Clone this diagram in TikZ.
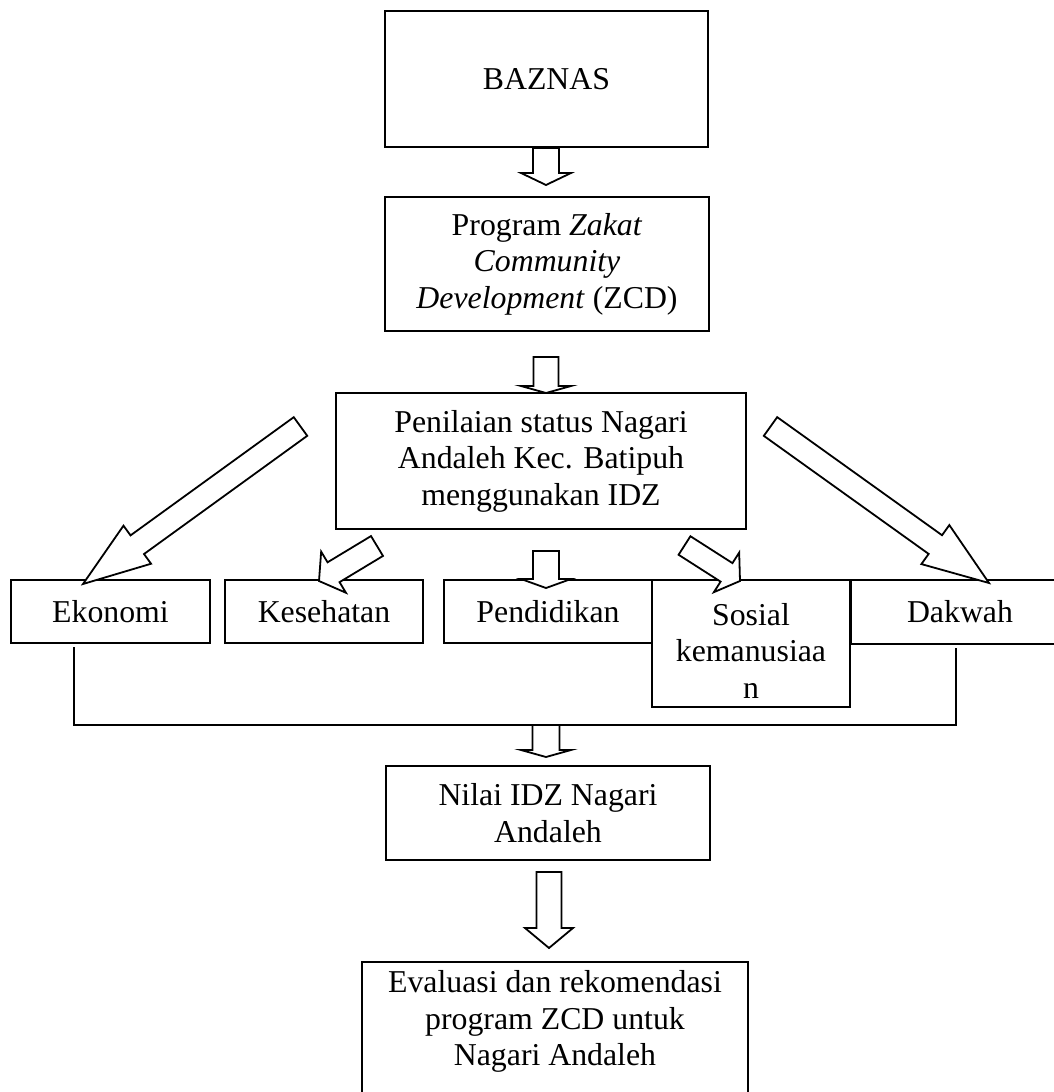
\documentclass[tikz,border=0pt]{standalone}
\usepackage{fontspec}
\setmainfont{Liberation Serif}
\usetikzlibrary{calc}
\tikzset{
  txt/.style={font={\fontsize{15.9}{18.25}\selectfont}, align=center, inner sep=0pt},
  box/.style={txt, draw, line width=0.9pt, rectangle},
  blockarrow/.style={draw, line width=0.9pt, line join=miter, fill=white},
  conn/.style={draw, line width=0.9pt},
}
\newcommand\blockarr[5]{%
  \coordinate (ba-hb) at ($(#2)!#5!(#1)$);
  \draw[blockarrow] ($(#1)!#3!90:(#2)$) -- ($(ba-hb)!#3!90:(#2)$) -- ($(ba-hb)!#4!90:(#2)$) -- (#2)
    -- ($(ba-hb)!#4!-90:(#2)$) -- ($(ba-hb)!#3!-90:(#2)$) -- ($(#1)!#3!-90:(#2)$) -- cycle;
}
\begin{document}
\begin{tikzpicture}[x=0.5pt, y=-0.5pt]
\useasboundingbox (0,0) rectangle (1054,1092);
\clip (0,0) rectangle (1054,1092);
\fill[white] (0,0) rectangle (1054,1092);

% boxes
\node[box, minimum width=161.5pt, minimum height=68pt] (baznas) at (546.5,79) {BAZNAS};
\node[box, minimum width=162pt, minimum height=67pt] (program) at (547,264)
  {Program \textit{Zakat}\\ \textit{Community}\\ \textit{Development} (ZCD)};
\node[box, minimum width=205pt, minimum height=68pt] (penilaian) at (541,461)
  {Penilaian status Nagari\\ Andaleh Kec. Batipuh\\ menggunakan IDZ};
\node[box, minimum width=99.5pt, minimum height=31.5pt] (ekonomi) at (110.5,611.5) {Ekonomi};
\node[box, minimum width=99pt, minimum height=31.5pt] (kesehatan) at (324,611.5) {Kesehatan};
\node[box, minimum width=104pt, minimum height=31.5pt] (pendidikan) at (548,611.5) {Pendidikan};
\node[box, minimum width=109pt, minimum height=32pt] (dakwah) at (960,612) {Dakwah};
\node[box, minimum width=99pt, minimum height=63.5pt] (sosial) at (751,643.5) {};
\node[txt] (sosialtext) at (751,650.5) {Sosial\\ kemanusiaa\\ n};
\node[box, minimum width=162pt, minimum height=47pt] (nilai) at (548,813) {Nilai IDZ Nagari\\ Andaleh};
\draw[line width=0.9pt] (362,962) rectangle (748,1110);
\node[txt] (evaluasi) at (555,1021.5) {Evaluasi dan rekomendasi\\ program ZCD untuk\\ Nagari Andaleh};

% connector from Ekonomi and Dakwah
\coordinate (ekl) at (74,647);
\coordinate (dkl) at (956,648);
\coordinate (bar) at (546,725);
\draw[conn] (ekl) -- (ekl |- bar) -- (dkl |- bar) -- (dkl);

% block arrows
\coordinate (a1t) at (546,148);  \coordinate (a1h) at (546,185);
\coordinate (a2t) at (546,357);  \coordinate (a2h) at (546,393);
\coordinate (apt) at (546,551);  \coordinate (aph) at (546,588);
\coordinate (a3h) at (546,757);
\coordinate (a4t) at (549,872);  \coordinate (a4h) at (549,948);
\coordinate (aet) at (300.5,426.5); \coordinate (aeh) at (83,584);
\coordinate (akt) at (377,546);  \coordinate (akh) at (319,581);
\coordinate (ast) at (684.5,545.5); \coordinate (ash) at (740,581);
\coordinate (adt) at (770.5,426.5); \coordinate (adh) at (989,583);

\blockarr{a1t}{a1h}{6.5pt}{12.5pt}{6pt}
\blockarr{a2t}{a2h}{6.25pt}{12.5pt}{3.5pt}
\blockarr{apt}{aph}{6.5pt}{12.5pt}{4.5pt}
\blockarr{bar}{a3h}{6.75pt}{12.5pt}{3.5pt}
\blockarr{a4t}{a4h}{6.25pt}{12pt}{10pt}
\blockarr{aet}{aeh}{5.75pt}{11.75pt}{33.5pt}
\blockarr{akt}{akh}{5.8pt}{12pt}{8.5pt}
\blockarr{ast}{ash}{5.5pt}{11.75pt}{8pt}
\blockarr{adt}{adh}{5.75pt}{12pt}{33pt}
\end{tikzpicture}
\end{document}
